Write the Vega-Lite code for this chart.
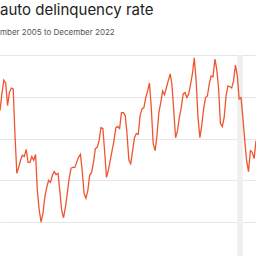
{
  "$schema": "https://vega.github.io/schema/vega-lite/v6.json",
  "width": 256,
  "height": 256,
  "autosize": {"type": "fit", "contains": "padding"},
  "padding": {"top": 3, "left": 0, "right": 0, "bottom": 0},
  "background": "white",
  "title": {
    "text": "auto delinquency rate",
    "subtitle": "mber 2005 to December 2022",
    "anchor": "start",
    "frame": "group",
    "font": "Inter",
    "fontSize": 15,
    "fontWeight": "normal",
    "color": "#222222",
    "subtitleFont": "Inter",
    "subtitleFontSize": 8,
    "subtitleColor": "#555555",
    "subtitlePadding": 11,
    "offset": 18
  },
  "datasets": {
    "rate": [
      {"d":"2009-07-01","v":4.67},{"d":"2009-08-01","v":5.07},{"d":"2009-09-01","v":5.40},{"d":"2009-10-01","v":5.33},{"d":"2009-11-01","v":4.79},{"d":"2009-12-01","v":5.10},
      {"d":"2010-01-01","v":5.21},{"d":"2010-02-01","v":5.19},{"d":"2010-03-01","v":4.12},{"d":"2010-04-01","v":3.17},{"d":"2010-05-01","v":3.31},{"d":"2010-06-01","v":3.48},{"d":"2010-07-01","v":3.60},{"d":"2010-08-01","v":3.57},{"d":"2010-09-01","v":3.74},{"d":"2010-10-01","v":3.43},{"d":"2010-11-01","v":3.43},{"d":"2010-12-01","v":3.57},
      {"d":"2011-01-01","v":3.48},{"d":"2011-02-01","v":3.62},{"d":"2011-03-01","v":2.76},{"d":"2011-04-01","v":2.29},{"d":"2011-05-01","v":2.00},{"d":"2011-06-01","v":2.21},{"d":"2011-07-01","v":2.60},{"d":"2011-08-01","v":2.83},{"d":"2011-09-01","v":3.00},{"d":"2011-10-01","v":2.95},{"d":"2011-11-01","v":3.12},{"d":"2011-12-01","v":3.21},
      {"d":"2012-01-01","v":3.14},{"d":"2012-02-01","v":3.17},{"d":"2012-03-01","v":2.76},{"d":"2012-04-01","v":2.29},{"d":"2012-05-01","v":2.10},{"d":"2012-06-01","v":2.36},{"d":"2012-07-01","v":2.69},{"d":"2012-08-01","v":3.05},{"d":"2012-09-01","v":3.29},{"d":"2012-10-01","v":3.31},{"d":"2012-11-01","v":3.31},{"d":"2012-12-01","v":3.43},
      {"d":"2013-01-01","v":3.55},{"d":"2013-02-01","v":3.62},{"d":"2013-03-01","v":3.24},{"d":"2013-04-01","v":2.69},{"d":"2013-05-01","v":2.57},{"d":"2013-06-01","v":2.76},{"d":"2013-07-01","v":3.12},{"d":"2013-08-01","v":3.19},{"d":"2013-09-01","v":3.43},{"d":"2013-10-01","v":3.76},{"d":"2013-11-01","v":3.79},{"d":"2013-12-01","v":3.95},
      {"d":"2014-01-01","v":4.26},{"d":"2014-02-01","v":4.24},{"d":"2014-03-01","v":3.71},{"d":"2014-04-01","v":3.07},{"d":"2014-05-01","v":3.24},{"d":"2014-06-01","v":3.48},{"d":"2014-07-01","v":3.71},{"d":"2014-08-01","v":3.95},{"d":"2014-09-01","v":4.26},{"d":"2014-10-01","v":4.29},{"d":"2014-11-01","v":4.24},{"d":"2014-12-01","v":4.62},
      {"d":"2015-01-01","v":4.62},{"d":"2015-02-01","v":4.55},{"d":"2015-03-01","v":4.12},{"d":"2015-04-01","v":3.48},{"d":"2015-05-01","v":3.40},{"d":"2015-06-01","v":3.71},{"d":"2015-07-01","v":4.02},{"d":"2015-08-01","v":4.12},{"d":"2015-09-01","v":4.10},{"d":"2015-10-01","v":4.55},{"d":"2015-11-01","v":4.71},{"d":"2015-12-01","v":4.74},
      {"d":"2016-01-01","v":4.98},{"d":"2016-02-01","v":5.14},{"d":"2016-03-01","v":5.33},{"d":"2016-04-01","v":4.71},{"d":"2016-05-01","v":3.88},{"d":"2016-06-01","v":3.71},{"d":"2016-07-01","v":4.07},{"d":"2016-08-01","v":4.62},{"d":"2016-09-01","v":4.86},{"d":"2016-10-01","v":5.14},{"d":"2016-11-01","v":5.05},{"d":"2016-12-01","v":5.21},
      {"d":"2017-01-01","v":5.38},{"d":"2017-02-01","v":5.55},{"d":"2017-03-01","v":5.31},{"d":"2017-04-01","v":4.67},{"d":"2017-05-01","v":4.02},{"d":"2017-06-01","v":4.19},{"d":"2017-07-01","v":4.50},{"d":"2017-08-01","v":4.74},{"d":"2017-09-01","v":5.07},{"d":"2017-10-01","v":5.10},{"d":"2017-11-01","v":4.98},{"d":"2017-12-01","v":5.07},
      {"d":"2018-01-01","v":5.31},{"d":"2018-02-01","v":5.57},{"d":"2018-03-01","v":5.93},{"d":"2018-04-01","v":5.38},{"d":"2018-05-01","v":4.50},{"d":"2018-06-01","v":4.02},{"d":"2018-07-01","v":4.31},{"d":"2018-08-01","v":4.71},{"d":"2018-09-01","v":4.98},{"d":"2018-10-01","v":5.02},{"d":"2018-11-01","v":5.31},{"d":"2018-12-01","v":5.50},
      {"d":"2019-01-01","v":5.48},{"d":"2019-02-01","v":5.90},{"d":"2019-03-01","v":5.67},{"d":"2019-04-01","v":5.21},{"d":"2019-05-01","v":4.36},{"d":"2019-06-01","v":4.29},{"d":"2019-07-01","v":4.50},{"d":"2019-08-01","v":5.02},{"d":"2019-09-01","v":5.26},{"d":"2019-10-01","v":5.24},{"d":"2019-11-01","v":5.21},{"d":"2019-12-01","v":5.38},
      {"d":"2020-01-01","v":5.76},{"d":"2020-02-01","v":5.50},{"d":"2020-03-01","v":4.95},{"d":"2020-04-01","v":4.98},{"d":"2020-05-01","v":4.50},{"d":"2020-06-01","v":3.95},{"d":"2020-07-01","v":3.48},{"d":"2020-08-01","v":3.21},{"d":"2020-09-01","v":3.71},{"d":"2020-10-01","v":3.67},{"d":"2020-11-01","v":3.52},{"d":"2020-12-01","v":3.95}
    ],
    "recession": [{"start": "2020-02-01", "end": "2020-05-01"}]
  },
  "layer": [
    {
      "data": {"name": "recession"},
      "mark": {"type": "rect", "color": "#efefef", "clip": true},
      "encoding": {
        "x": {"field": "start", "type": "temporal", "scale": {"domain": ["2009-07-01", "2020-12-01"]}, "axis": null},
        "x2": {"field": "end"}
      }
    },
    {
      "data": {"name": "rate"},
      "mark": {"type": "line", "color": "#ef5530", "strokeWidth": 1.3, "clip": true},
      "encoding": {
        "x": {"field": "d", "type": "temporal", "scale": {"domain": ["2009-07-01", "2020-12-01"]}, "axis": null},
        "y": {
          "field": "v",
          "type": "quantitative",
          "scale": {"domain": [1.19, 6], "nice": false, "zero": false},
          "axis": {"values": [2, 3, 4, 5, 6], "labels": false, "ticks": false, "domain": false, "title": null, "grid": true, "gridColor": "#e6e6e6", "gridWidth": 1}
        }
      }
    }
  ],
  "config": {"view": {"stroke": null}}
}
